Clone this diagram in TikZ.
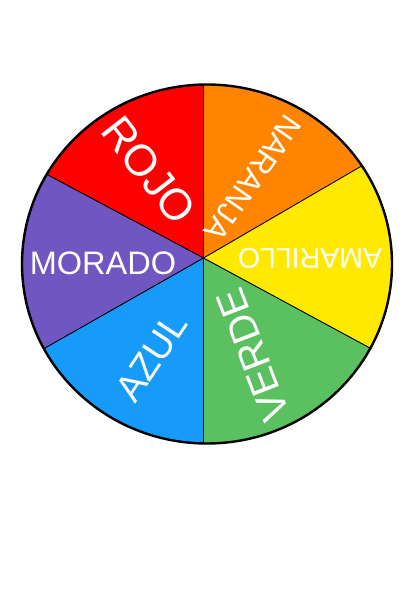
\documentclass[tikz,border=0pt]{standalone}
\usepackage{fontspec}
\setmainfont{Liberation Sans}
\definecolor{cRojo}{RGB}{255,0,0}
\definecolor{cNaranja}{RGB}{255,132,0}
\definecolor{cAmarillo}{RGB}{255,233,0}
\definecolor{cVerde}{RGB}{90,192,96}
\definecolor{cAzul}{RGB}{22,155,250}
\definecolor{cMorado}{RGB}{112,86,192}
\tikzset{
  lbl/.style={text=white, inner sep=0pt, font=\fontsize{#1}{#1}\selectfont},
  spoke/.style={draw=black, line width=0.9pt},
  rim/.style={draw=black, line width=2.4pt}
}
\begin{document}
\begin{tikzpicture}[x=1pt,y=1pt]
\useasboundingbox (0,0) rectangle (412,606);
\fill[white] (0,0) rectangle (412,606);
\coordinate (hub) at (203.5,348);
\coordinate (ctr) at (207,342);
\begin{scope}
\clip (ctr) ellipse [x radius=185, y radius=179.5];
\fill[cRojo] (hub) -- ([shift={(90:300)}]hub) -- ([shift={(151.9:300)}]hub) -- cycle;
\fill[cNaranja] (hub) -- ([shift={(30.2:300)}]hub) -- ([shift={(90:300)}]hub) -- cycle;
\fill[cAmarillo] (hub) -- ([shift={(-28.4:300)}]hub) -- ([shift={(30.2:300)}]hub) -- cycle;
\fill[cVerde] (hub) -- ([shift={(-90:300)}]hub) -- ([shift={(-28.4:300)}]hub) -- cycle;
\fill[cAzul] (hub) -- ([shift={(209.6:300)}]hub) -- ([shift={(270:300)}]hub) -- cycle;
\fill[cMorado] (hub) -- ([shift={(151.9:300)}]hub) -- ([shift={(209.6:300)}]hub) -- cycle;
\foreach \a in {90,30.2,-28.4,-90,209.6,151.9}
  \draw[spoke] (hub) -- ([shift={(\a:300)}]hub);
\end{scope}
\draw[rim] (ctr) ellipse [x radius=185, y radius=179.5];
\node[lbl=44, rotate=-52] (rojo) at (149,436) {ROJO};
\node[lbl=31, rotate=-125] (naranja) at (253,428) {NARANJA};
\node[lbl=28.5, rotate=180] (amarillo) at (310,348) {AMARILLO};
\node[lbl=40, rotate=111] (verde) at (253,251) {VERDE};
\node[lbl=38, rotate=56.5] (azul) at (152,249) {AZUL};
\node[lbl=32.5] (morado) at (103,343) {MORADO};
\end{tikzpicture}
\end{document}
